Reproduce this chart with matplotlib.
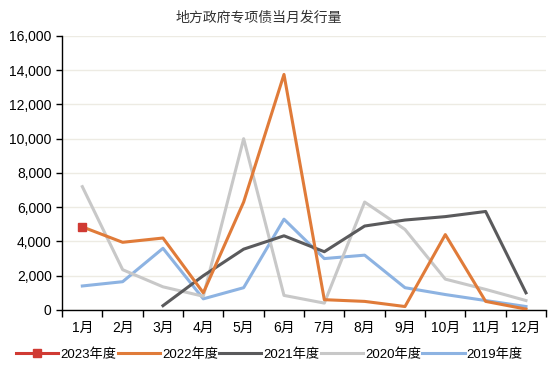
import matplotlib
matplotlib.use("Agg")
import matplotlib.pyplot as plt
from matplotlib.ticker import FuncFormatter, FixedLocator
import numpy as np

plt.rcParams['font.family'] = ['Liberation Sans', 'Noto Sans CJK SC', 'DejaVu Sans']

months = ['1月', '2月', '3月', '4月', '5月', '6月', '7月', '8月', '9月', '10月', '11月', '12月']
v2023 = [4850]
v2022 = [4850, 3950, 4200, 1000, 6300, 13750, 600, 500, 200, 4400, 500, 50]
v2021 = [None, None, 250, 2000, 3550, 4330, 3400, 4900, 5250, 5450, 5750, 1000]
v2020 = [7200, 2350, 1350, 800, 10000, 850, 400, 6300, 4700, 1800, 1200, 550]
v2019 = [1400, 1650, 3600, 650, 1300, 5300, 3000, 3200, 1300, 900, 550, 200]
series_names = ['2023年度', '2022年度', '2021年度', '2020年度', '2019年度']
title = '地方政府专项债当月发行量'

fig = plt.figure(figsize=(5.5, 3.78), dpi=100)
ax = fig.add_axes([0.113, 0.18, 0.88, 0.725])

x = np.arange(len(months))
def arr(v):
    return np.array([np.nan if a is None else a for a in v], dtype=float)

lw = 2.2
ax.plot(x, arr(v2019), color='#8DB3E2', lw=lw, label=series_names[4], zorder=3)
ax.plot(x, arr(v2020), color='#C8C8C8', lw=lw, label=series_names[3], zorder=3)
ax.plot(x, arr(v2021), color='#5A5A5C', lw=lw, label=series_names[2], zorder=3)
ax.plot(x, arr(v2022), color='#E07B39', lw=lw, label=series_names[1], zorder=4)
ax.plot(x[:len(v2023)], v2023, color='#D03A33', lw=lw, marker='s', markersize=6,
        label=series_names[0], zorder=5)

ax.set_xlim(-0.5, 11.5)
ax.set_ylim(0, 16000)
ax.set_yticks(np.arange(0, 16001, 2000))
ax.yaxis.set_major_formatter(FuncFormatter(lambda v, p: f'{int(v):,}'))
ax.grid(axis='y', color='#EDEBE3', lw=1, zorder=0)
ax.set_axisbelow(True)

ax.set_xticks(x)
ax.set_xticklabels(months)
ax.xaxis.set_minor_locator(FixedLocator(np.arange(-0.5, 12, 1)))
ax.tick_params(axis='x', which='major', length=0, pad=8, labelsize=10)
ax.tick_params(axis='x', which='minor', length=5, width=1, color='black')
ax.tick_params(axis='y', length=4, width=1, labelsize=10, color='black')

for s in ['top', 'right']:
    ax.spines[s].set_visible(False)
for s in ['left', 'bottom']:
    ax.spines[s].set_color('black')
    ax.spines[s].set_linewidth(1)

fig.text(0.47, 0.952, title, ha='center', va='center', fontsize=10, color='#333333',
         family=['Noto Sans CJK SC', 'DejaVu Sans'])

handles, labels = ax.get_legend_handles_labels()
order = [4, 3, 2, 1, 0]
fig.legend([handles[i] for i in order], [labels[i] for i in order],
           loc='center', bbox_to_anchor=(0.49, 0.062), ncol=5, frameon=False,
           handlelength=3.2, handletextpad=0.15, columnspacing=0.1,
           prop={'family': ['Liberation Sans', 'Noto Sans CJK SC'], 'size': 9.5})

fig.savefig('out.png', dpi=100)
